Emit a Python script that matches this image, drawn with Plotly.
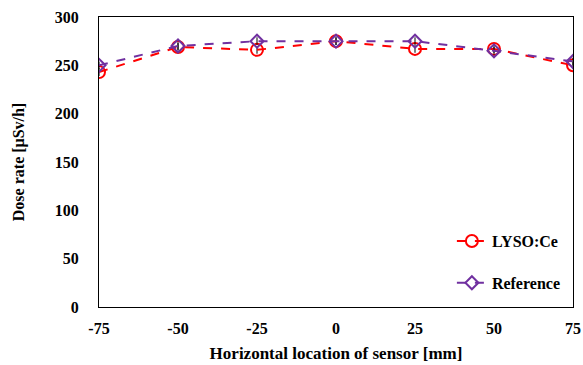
import plotly.graph_objects as go

x_pos = [-75, -50, -25, 0, 25, 50, 75]
lyso = [243, 269, 266, 275, 267, 267, 250]
lyso_err = [4, 4, 4, 4, 4, 4, 4]
reference = [250, 270, 275, 275, 275, 265, 254]
ref_err = [4, 4, 4, 4, 4, 4, 4]
x_ticks = [-75, -50, -25, 0, 25, 50, 75]
y_ticks = [0, 50, 100, 150, 200, 250, 300]

font = "Liberation Serif, Times New Roman, serif"

fig = go.Figure()
fig.add_trace(go.Scatter(
    x=x_pos, y=lyso, name="LYSO:Ce", mode="lines+markers", legendgroup="a",
    line=dict(color="#FF0000", dash="dash", width=2),
    marker=dict(symbol="circle-open", size=12, color="#FF0000", line=dict(width=2)),
    error_y=dict(type="data", array=lyso_err, color="black", thickness=1, width=0),
))
fig.add_trace(go.Scatter(
    x=x_pos, y=reference, name="Reference", mode="lines+markers", legendgroup="b",
    line=dict(color="#7030A0", dash="dash", width=2),
    marker=dict(symbol="diamond-open", size=10, color="#7030A0", line=dict(width=2)),
    error_y=dict(type="data", array=ref_err, color="black", thickness=1, width=0),
))

fig.update_layout(
    width=583, height=365,
    margin=dict(l=99, r=10, t=17, b=58, autoexpand=False),
    paper_bgcolor="white", plot_bgcolor="white",
    font=dict(family=font, size=16, color="black"),
    showlegend=True,
    legend=dict(x=0.985, y=0.286, xanchor="right", yanchor="top",
                bgcolor="rgba(0,0,0,0)", tracegroupgap=18,
                font=dict(family=font, size=16, color="black", weight="bold"),
                itemwidth=30),
)
fig.update_xaxes(
    range=[-75, 75], tickvals=x_ticks, ticktext=[str(v) for v in x_ticks],
    showgrid=False, zeroline=False, showline=True, linecolor="black", linewidth=1, mirror=True,
    ticks="", ticklabelstandoff=7, automargin=False,
    tickfont=dict(family=font, size=16, weight="bold"),
    title=dict(text="<b>Horizontal location of sensor [mm]</b>", font=dict(family=font, size=17), standoff=10),
)
fig.update_yaxes(
    range=[0, 300], tickvals=y_ticks,
    showgrid=False, zeroline=False, showline=True, linecolor="black", linewidth=1, mirror=True,
    ticks="", ticklabelstandoff=16, automargin=False,
    tickfont=dict(family=font, size=16, weight="bold"),
    title=dict(text="<b>Dose rate [μSv/h]</b>", font=dict(family=font, size=16), standoff=26),
)

fig.write_html("out.html", config={"displayModeBar": False},
               post_script="document.body.style.margin='0px';")
